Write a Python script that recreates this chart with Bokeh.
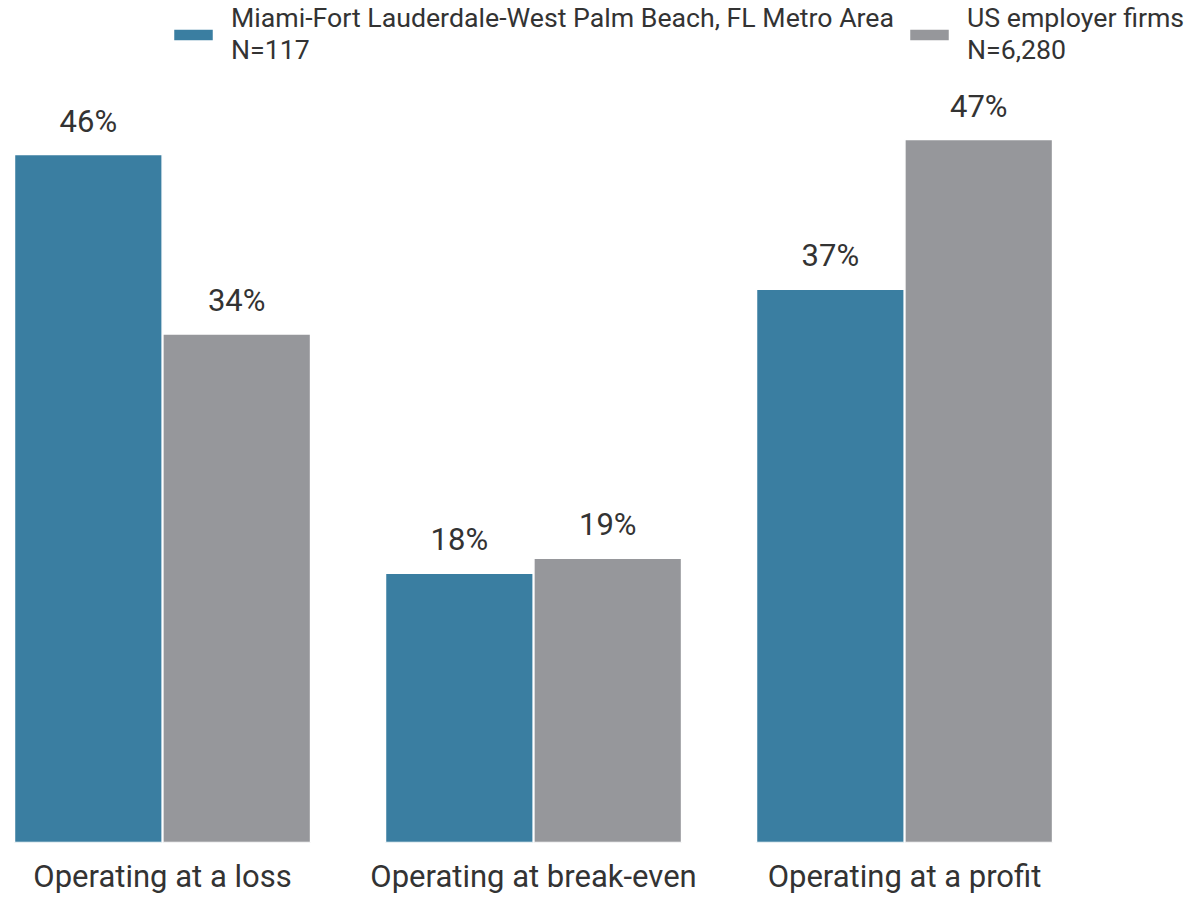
from bokeh.plotting import figure
from bokeh.models import ColumnDataSource, Legend, LegendItem, LabelSet, Range1d, FixedTicker
from bokeh.core.properties import value
from bokeh.embed import file_html
from bokeh.resources import INLINE

categories = ["Operating at a loss", "Operating at break-even", "Operating at a profit"]
series_names = ["Miami-Fort Lauderdale-West Palm Beach, FL Metro Area\nN=117", "US employer firms\nN=6,280"]
miami = [46, 18, 37]
us = [34, 19, 47]
colors = ["#3a7ea1", "#96979b"]

FONT = "Roboto"
xs = list(range(len(categories)))

p = figure(width=1186, height=898, output_backend="svg", toolbar_location=None,
           x_range=Range1d(-0.4367, 2.760), y_range=Range1d(0, 56.3),
           min_border_left=0, min_border_right=0, min_border_top=0, min_border_bottom=56)
p.outline_line_color = None
p.grid.grid_line_color = None
p.yaxis.visible = False
p.background_fill_color = "white"

src_m = ColumnDataSource(dict(x=[i - 0.2 for i in xs], top=miami, lab=[f"{v}%" for v in miami]))
src_u = ColumnDataSource(dict(x=[i + 0.2 for i in xs], top=us, lab=[f"{v}%" for v in us]))

r1 = p.vbar(x="x", top="top", width=0.398, bottom=0, source=src_m, fill_color=colors[0],
            line_color="white", line_width=1.5)
r2 = p.vbar(x="x", top="top", width=0.398, bottom=0, source=src_u, fill_color=colors[1],
            line_color="white", line_width=1.5)

for src in (src_m, src_u):
    p.add_layout(LabelSet(x="x", y="top", text="lab", source=src, text_align="center",
                          text_baseline="alphabetic", y_offset=23, text_font=value(FONT),
                          text_font_size="31px", text_color="#333333"))

ax = p.xaxis[0]
ax.ticker = FixedTicker(ticks=xs)
ax.major_label_overrides = {i: c for i, c in enumerate(categories)}
ax.axis_line_color = None
ax.major_tick_line_color = None
ax.minor_tick_line_color = None
ax.major_tick_out = 0
ax.major_label_standoff = 15
ax.major_label_text_font = FONT
ax.major_label_text_font_size = "31px"
ax.major_label_text_color = "#333333"

legend = Legend(items=[LegendItem(label=series_names[0], renderers=[r1]),
                       LegendItem(label=series_names[1], renderers=[r2])],
                orientation="horizontal", location=(168, 776),
                glyph_width=50, glyph_height=15, label_standoff=13, spacing=10,
                label_text_font=FONT, label_text_font_size="26.7px", label_text_color="#333333",
                label_text_line_height=1.05,
                border_line_color=None, background_fill_alpha=0, padding=0, margin=0)
p.add_layout(legend)

open("out.html", "w").write(file_html(p, INLINE))
